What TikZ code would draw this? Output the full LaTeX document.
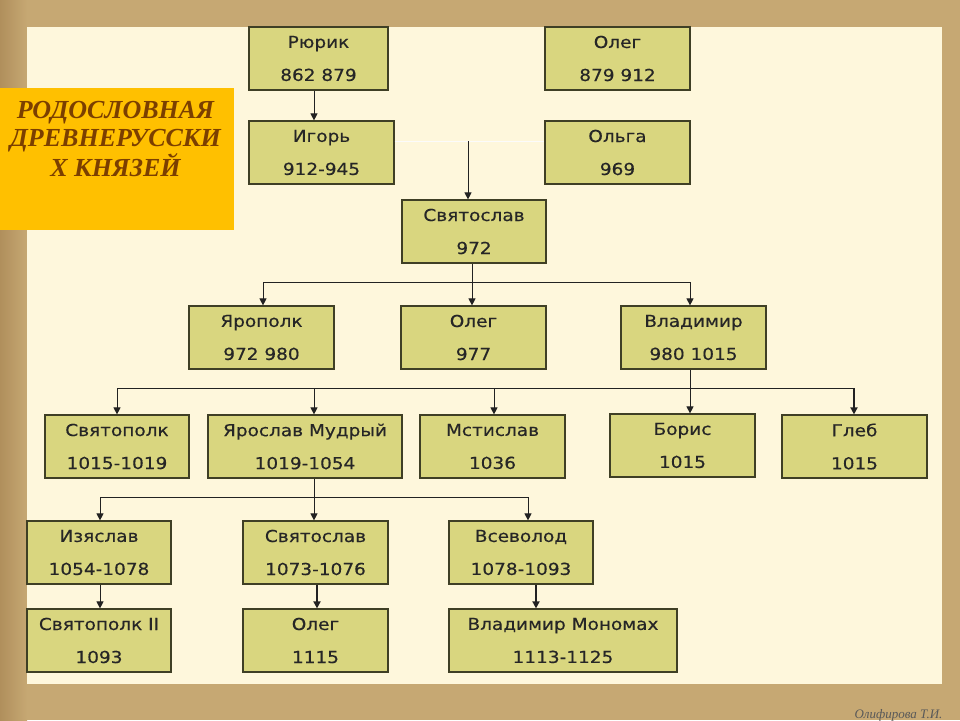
\documentclass[tikz,border=0pt]{standalone}
\usepackage{fontspec}
\setmainfont{DejaVu Sans}
\newfontfamily\boxfont[FakeStretch=1.12,FakeBold=0.4]{DejaVu Sans}
\newfontfamily\titlefont{Liberation Serif}
\usetikzlibrary{arrows.meta}
\definecolor{frameclr}{HTML}{C6A873}
\definecolor{frameleft}{HTML}{B08F5C}
\definecolor{creamclr}{HTML}{FEF7DC}
\definecolor{boxfill}{HTML}{D9D67F}
\definecolor{boxline}{HTML}{3F3F25}
\definecolor{titlefill}{HTML}{FFC000}
\definecolor{titletext}{HTML}{7B3F00}
\definecolor{lineclr}{HTML}{222222}
\tikzset{
  prince/.style={draw=boxline, line width=1.2pt, fill=boxfill, minimum height=63pt,
    inner sep=0pt, align=center, text=black!85,
    font=\boxfont\fontsize{16.5}{33}\selectfont},
  arr/.style={draw=lineclr, line width=1pt, -{Triangle[width=7pt,length=7pt]}},
  thickarr/.style={arr, line width=1.7pt},
  conn/.style={draw=lineclr, line width=1pt},
  faintconn/.style={draw=white!85!black!10, line width=1pt}
}
\begin{document}
\begin{tikzpicture}[x=1pt,y=-1pt]
\useasboundingbox (0,0) rectangle (960,720);
% frame and panel
\fill[frameclr] (0,0) rectangle (960,720);
\fill[left color=frameleft, right color=frameclr] (0,0) rectangle (27,720);
\fill[creamclr] (27,27) rectangle (942,684);
% title
\node[fill=titlefill, minimum width=234pt, minimum height=142pt, inner sep=0pt] (titlebox) at (117,159) {};
\node[text=titletext, align=center, font=\titlefont\bfseries\itshape\fontsize{26}{28.5}\selectfont] (title) at (115.5,139) {РОДОСЛОВНАЯ\\ДРЕВНЕРУССКИ\\Х КНЯЗЕЙ};
% boxes
\node[prince, minimum width=139pt] (ryurik) at (318.5,58.5) {Рюрик\\862 879};
\node[prince, minimum width=145pt] (oleg1) at (617.5,58.5) {Олег\\879 912};
\node[prince, minimum width=145pt] (igor) at (321.5,152.5) {Игорь\\912-945};
\node[prince, minimum width=145pt] (olga) at (617.5,152.5) {Ольга\\969};
\node[prince, minimum width=144pt] (svyat1) at (474,231.5) {Святослав\\972};
\node[prince, minimum width=145pt] (yaropolk) at (261.5,337.5) {Ярополк\\972 980};
\node[prince, minimum width=145pt] (oleg2) at (473.5,337.5) {Олег\\977};
\node[prince, minimum width=145pt] (vladimir) at (693.5,337.5) {Владимир\\980 1015};
\node[prince, minimum width=144pt] (svyatopolk) at (117,446.5) {Святополк\\1015-1019};
\node[prince, minimum width=194pt] (yaroslav) at (305,446.5) {Ярослав Мудрый\\1019-1054};
\node[prince, minimum width=145pt] (mstislav) at (492.5,446.5) {Мстислав\\1036};
\node[prince, minimum width=145pt] (boris) at (682.5,445.5) {Борис\\1015};
\node[prince, minimum width=145pt] (gleb) at (854.5,446.5) {Глеб\\1015};
\node[prince, minimum width=144pt] (izyaslav) at (99,552.5) {Изяслав\\1054-1078};
\node[prince, minimum width=145pt] (svyat2) at (315.5,552.5) {Святослав\\1073-1076};
\node[prince, minimum width=144pt] (vsevolod) at (521,552.5) {Всеволод\\1078-1093};
\node[prince, minimum width=144pt] (svyatopolk2) at (99,640.5) {Святополк II\\1093};
\node[prince, minimum width=145pt] (oleg3) at (315.5,640.5) {Олег\\1115};
\node[prince, minimum width=228pt] (monomakh) at (563,640.5) {Владимир Мономах\\1113-1125};
% connector coordinates
\coordinate (xA) at (314,0);
\coordinate (mIO) at (468,141);
\coordinate (b1) at (472,282);
\coordinate (l1) at (263,282);
\coordinate (r1) at (690,282);
\coordinate (b2) at (690,388);
\coordinate (l2) at (117,388);
\coordinate (r2) at (854,388);
\coordinate (y2) at (314,388);
\coordinate (m2) at (494,388);
\coordinate (b3) at (314,497);
\coordinate (l3) at (100,497);
\coordinate (r3) at (528,497);
\coordinate (d1) at (100,0);
\coordinate (d2) at (317,0);
\coordinate (d3) at (536,0);
% connectors
\draw[arr] (ryurik.south -| xA) -- (igor.north -| xA);
\draw[faintconn] (igor.east |- mIO) -- (olga.west |- mIO);
\draw[arr] (mIO) -- (svyat1.north -| mIO);
\draw[conn] (svyat1.south -| b1) -- (b1);
\draw[conn] (l1) -- (r1);
\draw[arr] (l1) -- (yaropolk.north -| l1);
\draw[arr] (b1) -- (oleg2.north -| b1);
\draw[arr] (r1) -- (vladimir.north -| r1);
\draw[conn] (vladimir.south -| b2) -- (b2);
\draw[conn] (l2) -- (r2);
\draw[arr] (l2) -- (svyatopolk.north -| l2);
\draw[arr] (y2) -- (yaroslav.north -| y2);
\draw[arr] (m2) -- (mstislav.north -| m2);
\draw[arr] (b2) -- (boris.north -| b2);
\draw[thickarr] (r2) -- (gleb.north -| r2);
\draw[conn] (yaroslav.south -| b3) -- (b3);
\draw[conn] (l3) -- (r3);
\draw[arr] (l3) -- (izyaslav.north -| l3);
\draw[arr] (b3) -- (svyat2.north -| b3);
\draw[arr] (r3) -- (vsevolod.north -| r3);
\draw[arr] (izyaslav.south -| d1) -- (svyatopolk2.north -| d1);
\draw[thickarr] (svyat2.south -| d2) -- (oleg3.north -| d2);
\draw[thickarr] (vsevolod.south -| d3) -- (monomakh.north -| d3);
% signature
\node[anchor=base east, text=black!65, font=\titlefont\itshape\fontsize{13}{15}\selectfont] (sign) at (946,718) {Олифирова Т.И.};
\end{tikzpicture}
\end{document}
